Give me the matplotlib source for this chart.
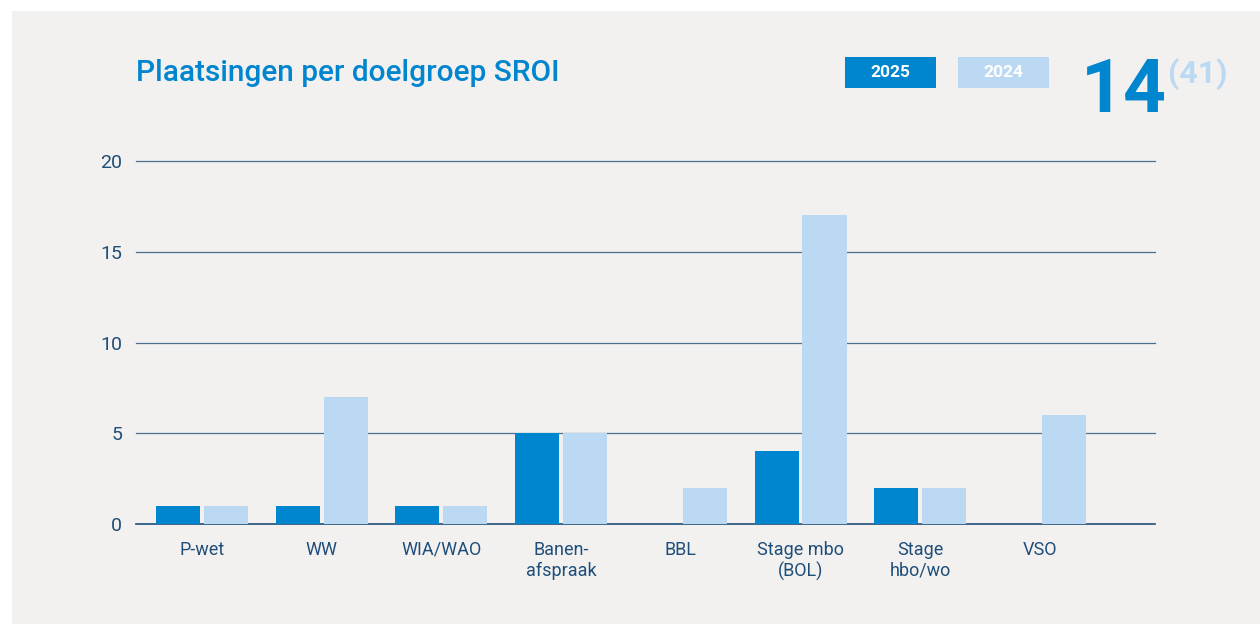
import matplotlib.pyplot as plt
from matplotlib.patches import Rectangle
import numpy as np

plt.rcParams['font.family'] = ['Roboto', 'DejaVu Sans']

categories = ['P-wet', 'WW', 'WIA/WAO', 'Banen-\nafspraak', 'BBL',
              'Stage mbo\n(BOL)', 'Stage\nhbo/wo', 'VSO']
vals_2025 = [1, 1, 1, 5, 0, 4, 2, 0]
vals_2024 = [1, 7, 1, 5, 2, 17, 2, 6]
yticks = [0, 5, 10, 15, 20]

dark = '#0085cf'
light = '#bbd9f2'
bg = '#f2f1f0'
txt = '#1f4e79'

fig = plt.figure(figsize=(12.6, 6.24), dpi=100)
W, H = 1260, 624
# grey panel
fig.patches.append(Rectangle((12 / W, 0), 1, 1 - 11 / H, transform=fig.transFigure,
                             facecolor=bg, edgecolor='none', zorder=-5))

ax = fig.add_axes([136 / W, 1 - 524 / H, (1155 - 136) / W, (524 - 161) / H])
ax.set_facecolor('none')
ax.set_zorder(5)

x = np.arange(len(categories))
w = 0.368
off = 0.2
ax.bar(x - off, vals_2025, w, color=dark, zorder=3)
ax.bar(x + off, vals_2024, w, color=light, zorder=3)

ax.set_xlim(-0.55, 7.96)
ax.set_ylim(0, 20)
ax.set_yticks(yticks)
for t in yticks:
    ax.axhline(t, color=txt, lw=1.2 if t == 0 else 0.9, alpha=1 if t == 0 else 0.8,
               zorder=2, clip_on=False)
for s in ax.spines.values():
    s.set_visible(False)
ax.tick_params(axis='both', length=0, colors=txt, labelsize=14)
ax.tick_params(axis='y', pad=10)
ax.tick_params(axis='x', pad=12)
ax.set_xticks(x)
ax.set_xticklabels(categories, fontsize=13, linespacing=1.2, va='top')

fig.text(136 / W, 1 - 73 / H, 'Plaatsingen per doelgroep SROI', color=dark,
         fontsize=21.5, fontweight='medium', va='center', ha='left')

# legend boxes
for x0, c, lab in [(845, dark, '2025'), (958, light, '2024')]:
    fig.patches.append(Rectangle((x0 / W, 1 - 88 / H), 91 / W, 31 / H,
                                 transform=fig.transFigure, facecolor=c,
                                 edgecolor='none', zorder=2))
    fig.text((x0 + 45.5) / W, 1 - 72.5 / H, lab, color='white', fontsize=12.5,
             fontweight='bold', ha='center', va='center', zorder=3)

fig.text(1081 / W, 1 - 112 / H, str(sum(vals_2025)), color=dark, fontsize=54,
         fontweight='bold', ha='left', va='baseline')
fig.text(1168 / W, 1 - 83 / H, '(' + str(sum(vals_2024)) + ')', color=light,
         fontsize=23, fontweight='bold', ha='left', va='baseline')

fig.savefig('out.png', dpi=100)
